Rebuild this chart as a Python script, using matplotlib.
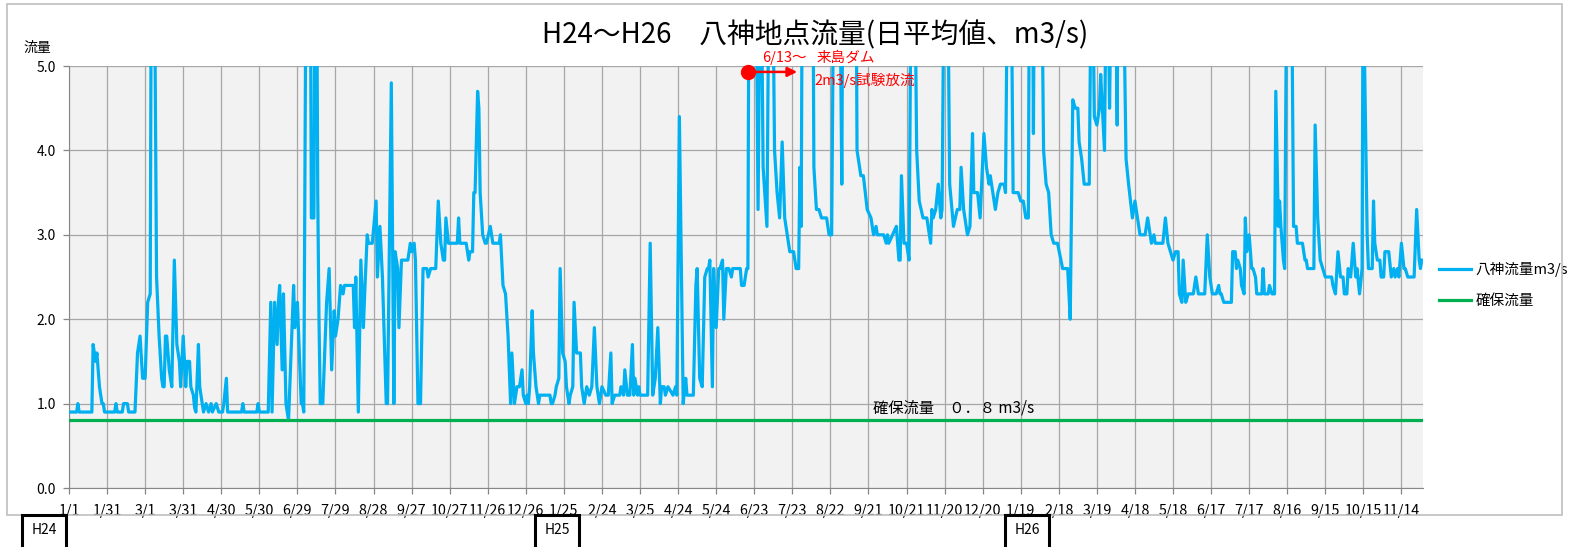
import matplotlib
matplotlib.use("Agg")
import matplotlib.pyplot as plt
from matplotlib.patches import Rectangle

plt.rcParams['font.family'] = ['Noto Sans CJK JP', 'DejaVu Sans']

# daily flow at Yagami (m3/s) as (day index, value) breakpoints
# values above 5.0 run off the top of the chart
flow_h24 = [(0,0.9),(6,0.9),(7,1.0),(8,0.9),(18,0.9),(19,1.7),(21,1.5),(22,1.6),(24,1.2),(26,1.0),(27,1.0),(28,0.9),
            (36,0.9),(37,1.0),(38,0.9),(42,0.9),(43,1.0),(46,1.0),(47,0.9),(52,0.9),(54,1.6),(56,1.8),(58,1.3),(60,1.3),
            (62,2.2),(64,2.3),(65,7.0),(67,7.0),(69,2.5),(71,1.8),(73,1.3),(74,1.2),(75,1.2),(76,1.8),(77,1.8),(79,1.4),
            (81,1.2),(83,2.7),(85,1.7),(87,1.5),(88,1.2),(90,1.8),(92,1.2),(93,1.5),(95,1.5),(96,1.2),(98,1.1),(99,0.95),
            (100,0.9),(102,1.7),(103,1.2),(105,1.0),(106,0.9),(108,1.0),(110,0.9),(112,1.0),(113,0.9),(116,1.0),(118,0.9),
            (121,0.9),(122,1.0),(124,1.3),(125,0.9),(136,0.9),(137,1.0),(138,0.9),(148,0.9),(149,1.0),(150,0.9),(157,0.9),
            (159,2.2),(160,0.9),(162,2.2),(164,1.7),(165,2.2),(166,2.4),(168,1.4),(169,2.3),(171,1.0),(173,0.8),(176,2.0),
            (177,2.4),(178,1.9),(180,2.2),(183,1.0),(184,1.0),(185,0.9),(187,7.0),(188,7.0),(190,7.0),(191,3.2),(193,3.2),
            (194,7.0),(195,7.0),(196,3.5),(197,2.0),(198,1.0),(200,1.0),(203,2.2),(205,2.6),(207,1.4),(209,2.1),(210,1.8),
            (212,2.0),(214,2.4),(216,2.3),(217,2.4),(224,2.4),(225,1.9),(226,2.5),(228,0.9),(230,2.7),(232,1.9),(233,2.3),
            (235,3.0),(236,2.9),(239,2.9),(242,3.4),(243,2.5),(245,3.1),(247,2.5),(248,2.0),(250,1.0),(251,1.0),(254,4.8),
            (256,1.0),(257,2.8),(259,2.6),(260,1.9),(262,2.7),(267,2.7),(269,2.9),(270,2.8),(272,2.9),(273,2.7),(275,1.0),
            (277,1.0),(279,2.6),(282,2.6),(283,2.5),(285,2.6),(289,2.6),(291,3.4),(293,2.9),(295,2.7),(296,2.7),(297,3.2),
            (299,2.9),(306,2.9),(307,3.2),(308,2.9),(313,2.9),(315,2.7),(316,2.8),(318,2.8),(319,3.5),(320,3.5),(322,4.7),
            (323,4.5),(324,3.5),(326,3.0),(328,2.9),(329,2.9),(332,3.1),(333,3.0),(334,2.9),(339,2.9),(340,3.0),(342,2.4),
            (344,2.3),(346,1.8),(348,1.0),(349,1.6),(351,1.0),(353,1.2),(355,1.2),(357,1.4),(358,1.1),(360,1.0)]

flow_h25 = [(361,1.1),(362,1.0),(363,1.2),(365,2.1),(366,1.6),(368,1.2),(370,1.0),(371,1.1),(374,1.1),(379,1.1),(380,1.0),
            (381,1.0),(383,1.1),(384,1.2),(386,1.3),(387,2.6),(389,1.6),(391,1.5),(392,1.2),(394,1.0),(395,1.1),(397,1.2),
            (398,2.2),(400,1.6),(403,1.6),(404,1.2),(406,1.0),(408,1.2),(410,1.1),(412,1.2),(414,1.9),(416,1.2),(418,1.0),
            (420,1.2),(423,1.1),(425,1.1),(427,1.6),(428,1.0),(430,1.1),(434,1.1),(435,1.2),(437,1.1),(438,1.4),(440,1.1),
            (442,1.1),(444,1.7),(445,1.1),(446,1.3),(448,1.1),(449,1.2),(450,1.1),(456,1.1),(458,2.9),(460,1.1),(462,1.3),
            (464,1.9),(466,1.0),(467,1.2),(469,1.2),(470,1.1),(472,1.2),(476,1.1),(478,1.2),(479,1.1),(481,4.4),(484,1.0),
            (486,1.3),(487,1.1),(489,1.1),(492,1.1),(494,2.4),(495,2.6),(497,1.3),(499,1.2),(501,2.5),(503,2.6),(504,2.6),
            (505,2.7),(507,1.2),(508,2.6),(510,1.9),(512,2.6),(513,2.6),(515,2.7),(516,2.0),(518,2.6),(520,2.6),(522,2.5),
            (523,2.6),(529,2.6),(530,2.4),(532,2.4),(534,2.6),(535,2.6),(536,7.0),(538,7.0),(541,7.0),(543,3.3),(545,7.0),
            (547,3.8),(550,3.1),(552,7.0),(554,7.0),(556,4.0),(558,3.5),(560,3.2),(562,4.1),(564,3.2),(566,3.0),(568,2.8),
            (571,2.8),(573,2.6),(575,2.6),(576,3.8),(577,3.1),(578,7.0),(586,7.0),(587,3.8),(589,3.3),(591,3.3),(593,3.2),
            (597,3.2),(599,3.0),(601,3.0),(603,7.0),(607,7.0),(609,3.6),(610,7.0),(620,7.0),(621,4.0),(624,3.7),(626,3.7),
            (629,3.3),(632,3.2),(634,3.0),(636,3.1),(637,3.0),(642,3.0),(644,2.9),(645,3.0),(646,2.9),(652,3.1),(654,2.7),
            (655,2.7),(656,3.7),(658,2.9),(660,2.9),(662,2.7),(664,7.0),(666,7.0),(668,4.0),(670,3.4),(673,3.2),(676,3.2),
            (679,2.9),(680,3.3),(681,3.2),(683,3.3),(685,3.6),(687,3.2),(688,3.3),(690,7.0),(692,7.0),(694,3.6),(697,3.1),
            (700,3.3),(702,3.3),(703,3.8),(705,3.3),(708,3.0),(710,3.1),(712,4.2),(713,3.5),(716,3.5),(718,3.2),(721,4.2),
            (723,3.8),(725,3.6),(726,3.7),(728,3.5),(730,3.3)]

flow_h26 = [(732,3.5),(734,3.6),(737,3.6),(738,3.5),(740,7.0),(742,7.0),(744,3.5),(748,3.5),(750,3.4),(752,3.4),(754,3.2),
            (756,3.2),(757,7.0),(759,7.0),(760,4.2),(761,7.0),(766,7.0),(768,4.0),(770,3.6),(772,3.5),(774,3.0),(776,2.9),
            (779,2.9),(783,2.6),(787,2.6),(789,2.0),(791,4.6),(793,4.5),(795,4.5),(796,4.1),(798,3.9),(800,3.6),(804,3.6),
            (806,7.0),(808,4.4),(810,4.3),(812,4.5),(813,4.9),(815,4.3),(816,4.0),(818,7.0),(820,4.5),(822,7.0),(824,7.0),
            (826,4.3),(827,7.0),(830,7.0),(833,3.9),(835,3.6),(838,3.2),(840,3.4),(842,3.2),(844,3.0),(848,3.0),(850,3.2),
            (853,2.9),(855,3.0),(856,2.9),(862,2.9),(864,3.2),(866,2.9),(868,2.8),(870,2.7),(872,2.8),(874,2.8),(875,2.3),
            (877,2.2),(878,2.7),(880,2.2),(882,2.3),(886,2.3),(888,2.5),(890,2.3),(895,2.3),(897,3.0),(899,2.5),(901,2.3),
            (904,2.3),(906,2.4),(907,2.3),(908,2.3),(910,2.2),(916,2.2),(917,2.8),(919,2.8),(920,2.6),(921,2.7),(923,2.6),
            (924,2.4),(926,2.3),(927,3.2),(928,2.8),(930,3.0),(932,2.6),(933,2.6),(935,2.5),(936,2.3),(940,2.3),(941,2.6),
            (942,2.3),(945,2.3),(946,2.4),(948,2.3),(950,2.3),(951,4.7),(953,3.1),(954,3.4),(955,3.1),(957,2.7),(958,2.6),
            (960,7.0),(963,7.0),(965,3.1),(967,3.1),(968,2.9),(972,2.9),(974,2.7),(975,2.7),(976,2.6),(981,2.6),(982,4.3),
            (984,3.2),(986,2.7),(988,2.6),(990,2.5),(995,2.5),(996,2.4),(998,2.3),(1000,2.8),(1002,2.5),(1004,2.5),(1005,2.3),
            (1007,2.3),(1008,2.6),(1010,2.5),(1012,2.9),(1014,2.5),(1015,2.6),(1017,2.3),(1019,2.6),(1020,7.0),(1021,5.0),
            (1023,3.0),(1024,2.6),(1027,2.6),(1028,3.4),(1029,2.9),(1031,2.7),(1033,2.7),(1034,2.5),(1036,2.5),(1037,2.8),
            (1040,2.8),(1042,2.5),(1044,2.6),(1045,2.5),(1047,2.6),(1048,2.5),(1050,2.9),(1052,2.6),(1053,2.6),(1055,2.5),
            (1060,2.5),(1062,3.3),(1064,2.7),(1065,2.6),(1066,2.7)]

secure_flow = 0.8
n_days = 1067
tick_step = 30
tick_labels = ['1/1', '1/31', '3/1', '3/31', '4/30', '5/30', '6/29', '7/29', '8/28', '9/27', '10/27', '11/26',
               '12/26', '1/25', '2/24', '3/25', '4/24', '5/24', '6/23', '7/23', '8/22', '9/21', '10/21', '11/20',
               '12/20', '1/19', '2/18', '3/19', '4/18', '5/18', '6/17', '7/17', '8/16', '9/15', '10/15', '11/14']
year_labels = ['H24', 'H25', 'H26']
year_box_x = [22, 535, 1005]   # pixel left edges of the era boxes
release_day = 535             # 6/13 test release marker
release_arrow_end = 576

W, H = 1570, 547
fig = plt.figure(figsize=(W / 100, H / 100), dpi=100)
ax = fig.add_axes([69 / W, 1 - 488 / H, (1423 - 69) / W, (488 - 66) / H])
ax.set_facecolor('#F2F2F2')

pts = flow_h24 + flow_h25 + flow_h26
day = [p[0] for p in pts]
flow = [p[1] for p in pts]

ax.plot(day, flow, color='#00B0F0', lw=2.3, label='八神流量m3/s', solid_joinstyle='round', zorder=3)
ax.plot([0, n_days], [secure_flow, secure_flow], color='#00B050', lw=2.3, label='確保流量', zorder=3)

ax.set_xlim(0, n_days)
ax.set_ylim(0, 5)
ax.set_xticks(range(0, tick_step * len(tick_labels), tick_step))
ax.set_xticklabels(tick_labels, fontsize=10.3)
ax.set_yticks([0, 1, 2, 3, 4, 5])
ax.set_yticklabels(['%.1f' % v for v in range(6)], fontsize=10)
ax.grid(True, color='#A6A6A6', lw=0.9)
ax.set_axisbelow(True)
for s in ['top', 'right']:
    ax.spines[s].set_visible(False)
for s in ['left', 'bottom']:
    ax.spines[s].set_color('#868686')
ax.tick_params(axis='both', colors='#868686', labelcolor='black', length=4.5, width=0.9)
ax.tick_params(axis='x', pad=7)
ax.tick_params(axis='y', pad=5)

# annotations
ax.plot([release_day], [4.93], 'o', color='red', ms=10, zorder=5, clip_on=False)
ax.annotate('', xy=(release_arrow_end, 4.93), xytext=(release_day, 4.93),
            arrowprops=dict(arrowstyle='-|>', color='red', lw=1.8, mutation_scale=14), annotation_clip=False)
ax.text(564, 5.10, '6/13～', color='red', fontsize=10.5, ha='center', va='center', clip_on=False)
ax.text(612, 5.10, '来島ダム', color='red', fontsize=10.5, ha='center', va='center', clip_on=False)
ax.text(627, 4.83, '2m3/s試験放流', color='red', fontsize=10.5, ha='center', va='center', zorder=6)
ax.text(697, 0.95, '確保流量　０．８ m3/s', fontsize=11, ha='center', va='center')

ax.legend(loc='center left', bbox_to_anchor=(1426 / W, 1 - 285 / H), bbox_transform=fig.transFigure,
          frameon=False, fontsize=10.5, handlelength=2.2, handletextpad=0.3, labelspacing=1.2)

fig.text(815 / W, 1 - 35 / H, 'H24～H26　八神地点流量(日平均値、m3/s)', fontsize=20, ha='center', va='center')
fig.text(37 / W, 1 - 48 / H, '流量', fontsize=10, ha='center', va='center')

# outer chart frame
fig.patches.append(Rectangle((7 / W, 1 - 515 / H), (1562 - 7) / W, (515 - 4) / H, transform=fig.transFigure,
                             fill=False, ec='#BFBFBF', lw=1.2))
for lab, bx in zip(year_labels, year_box_x):
    fig.patches.append(Rectangle((bx / W, -0.02), 44 / W, (547 - 515) / H + 0.02, transform=fig.transFigure,
                                 fc='white', ec='black', lw=2.2, zorder=5))
    fig.text((bx + 22) / W, 1 - 530 / H, lab, fontsize=10, ha='center', va='center', zorder=6)

fig.savefig('out.png', dpi=100)
